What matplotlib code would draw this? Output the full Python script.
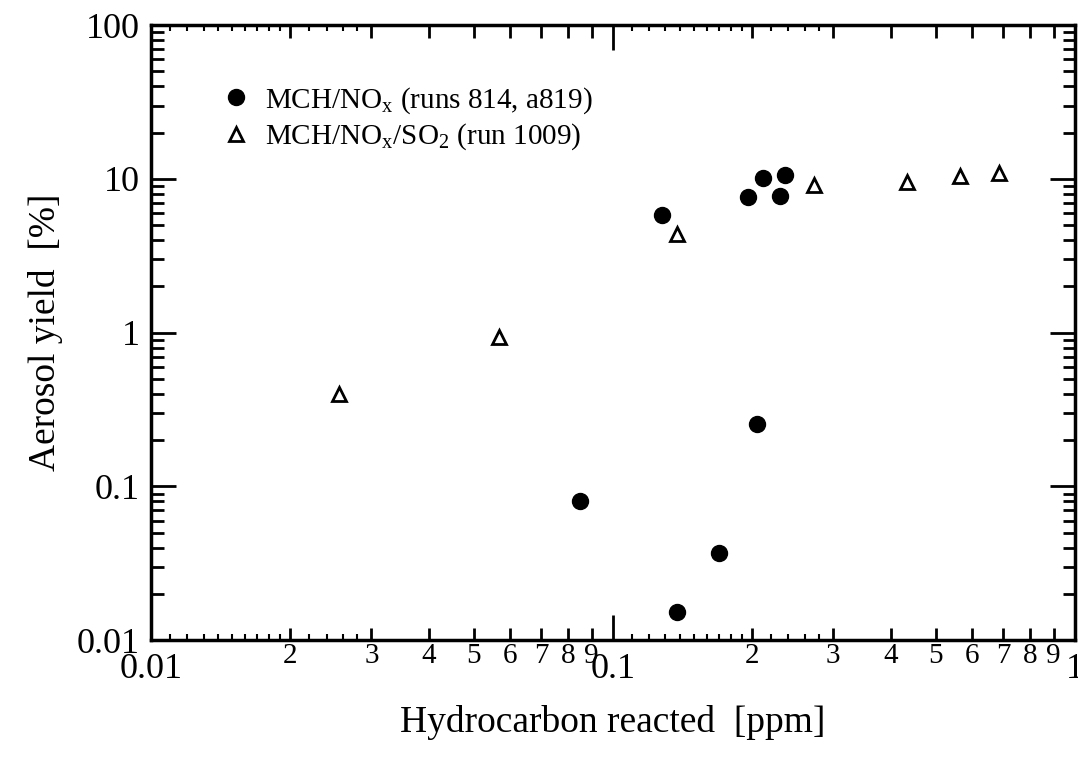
#!/usr/bin/env python3
# -*- coding: utf-8 -*-
"""
Aerosol yield vs hydrocarbon reacted (log-log scatter).
"""

import matplotlib
matplotlib.use("Agg")
import matplotlib.pyplot as plt
from matplotlib.ticker import FixedLocator, FixedFormatter, NullFormatter

# MCH/NOx runs (814, a819)
nox_hc = [0.085, 0.128, 0.138, 0.170, 0.196, 0.205, 0.211, 0.230, 0.236]
nox_yield = [0.081, 5.8, 0.0152, 0.037, 7.6, 0.255, 10.1, 7.7, 10.6]

# MCH/NOx/SO2 run 1009
so2_hc = [0.0255, 0.0566, 0.138, 0.273, 0.434, 0.563, 0.684]
so2_yield = [0.40, 0.935, 4.4, 9.1, 9.5, 10.4, 10.9]

x_major = [0.01, 0.1, 1]
x_major_labels = ["0.01", "0.1", "1"]
y_major = [0.01, 0.1, 1, 10, 100]
y_major_labels = ["0.01", "0.1", "1", "10", "100"]
digit_labels = ["2", "3", "4", "5", "6", "7", "8", "9"]

plt.rcParams["font.family"] = ["Liberation Serif", "DejaVu Serif"]
plt.rcParams["mathtext.fontset"] = "custom"
plt.rcParams["mathtext.rm"] = "Liberation Serif"

fig = plt.figure(figsize=(10.78, 7.64), dpi=100)
ax = fig.add_axes([0.140, 0.162, 0.857, 0.805])

ax.plot(nox_hc, nox_yield, linestyle="none", marker="o", markersize=11.5,
        color="black", label=r"MCH/NO$_\mathrm{x}$ (runs 814, a819)")
ax.plot(so2_hc, so2_yield, linestyle="none", marker="^", markersize=10,
        markerfacecolor="white", markeredgecolor="black", markeredgewidth=2,
        label=r"MCH/NO$_\mathrm{x}$/SO$_2$ (run 1009)")

ax.set_xscale("log")
ax.set_yscale("log")
ax.set_xlim(0.01, 1)
ax.set_ylim(0.01, 100)

# x ticks: decades labelled large, 2..9 labelled small
x_minor = [m * d for d in (0.01, 0.1) for m in range(2, 10)]
ax.xaxis.set_major_locator(FixedLocator(x_major))
ax.xaxis.set_major_formatter(FixedFormatter(x_major_labels))
ax.xaxis.set_minor_locator(FixedLocator(x_minor))
ax.xaxis.set_minor_formatter(FixedFormatter(digit_labels * 2))

y_minor = [m * d for d in (0.01, 0.1, 1, 10) for m in range(2, 10)]
ax.yaxis.set_major_locator(FixedLocator(y_major))
ax.yaxis.set_major_formatter(FixedFormatter(y_major_labels))
ax.yaxis.set_minor_locator(FixedLocator(y_minor))
ax.yaxis.set_minor_formatter(NullFormatter())

ax.tick_params(which="both", direction="in", top=True, right=True, width=2, colors="black")
ax.tick_params(which="major", length=18)
ax.tick_params(which="minor", length=9)
ax.tick_params(axis="x", which="major", labelsize=26, pad=9)
ax.tick_params(axis="x", which="minor", labelsize=21, pad=2)
ax.tick_params(axis="y", which="major", labelsize=26, pad=8)

# extra fine ticks between 1-2 and 2-3 on the x axis
fine = [m * d for d in (0.01, 0.1) for m in (1.1, 1.2, 1.3, 1.4, 1.5, 1.6, 1.7, 1.8, 1.9, 2.2, 2.4, 2.6, 2.8)]
for side in ("bottom", "top"):
    sec = ax.secondary_xaxis(side)
    sec.set_xscale("log")
    sec.xaxis.set_major_locator(FixedLocator(fine))
    sec.xaxis.set_major_formatter(NullFormatter())
    sec.xaxis.set_minor_locator(FixedLocator([]))
    sec.tick_params(direction="in", length=4, width=1.5)
    sec.spines[side].set_visible(False)

for sp in ax.spines.values():
    sp.set_linewidth(2.5)

ax.set_xlabel("Hydrocarbon reacted  [ppm]", fontsize=27, labelpad=14)
ax.set_ylabel("Aerosol yield  [%]", fontsize=27, labelpad=10)

ax.legend(loc="upper left", bbox_to_anchor=(0.045, 0.945), frameon=False,
          fontsize=21, handletextpad=0.4, labelspacing=0.2, handlelength=1.2)

plt.savefig("out.png", dpi=100)
